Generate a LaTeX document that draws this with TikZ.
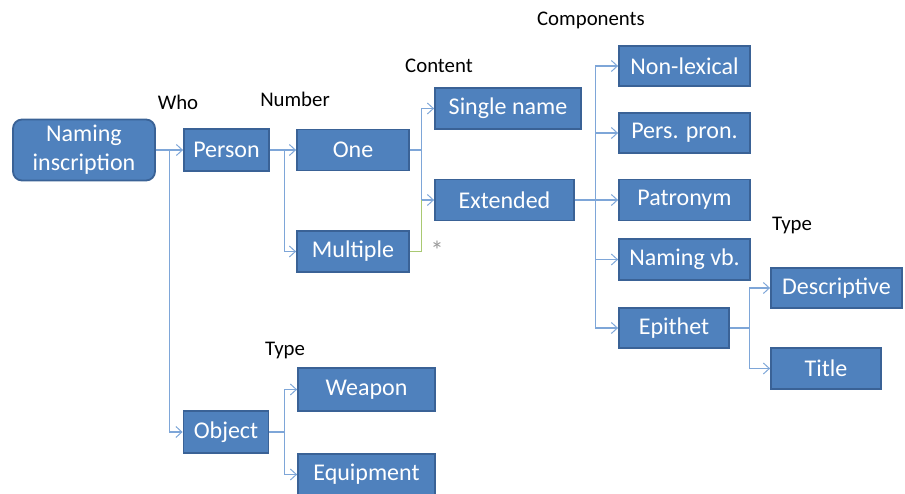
\documentclass[tikz,border=0pt]{standalone}
\usepackage{fontspec}
\setmainfont{Carlito}
\usetikzlibrary{arrows.meta}
\definecolor{boxfill}{HTML}{4F81BD}
\definecolor{boxedge}{HTML}{3A6296}
\definecolor{linkblue}{HTML}{7EA6D8}
\definecolor{linkgreen}{HTML}{A9C972}
\begin{document}
\begin{tikzpicture}[x=1pt,y=-1pt,
  box/.style={draw=boxedge, line width=1.8pt, fill=boxfill, text=white,
    font=\fontsize{24}{29}\selectfont, inner sep=0pt, minimum height=41pt, align=center},
  head/.style={font=\fontsize{20.8}{24}\selectfont, text=black, inner sep=0pt},
  conn/.style={draw=linkblue, line width=1.1pt,
    -{Straight Barb[length=6pt,width=11pt,line width=1pt]}},
  greenlink/.style={draw=linkgreen, line width=1.1pt},
]
\useasboundingbox (0,0) rectangle (905,494);
\clip (0,0) rectangle (905,494);

% column headings
\node[head] (hwho)  at (178,102) {Who};
\node[head] (hnum)  at (295,99)  {Number};
\node[head] (hcont) at (439,66)  {Content};
\node[head] (hcomp) at (591,20)  {Components};
\node[head] (htyp1) at (792,226) {Type};
\node[head] (htyp2) at (285,351) {Type};

% boxes
\node[box, rounded corners=9pt, minimum width=142pt, minimum height=61pt] (root) at (84,150) {Naming\\inscription};
\node[box, minimum width=85pt, minimum height=42pt] (person) at (226.5,150) {Person};
\node[box, minimum width=85pt, minimum height=42pt] (object) at (226,432) {Object};
\node[box, minimum width=112pt] (one) at (353,150) {One};
\node[box, minimum width=112pt] (multiple) at (353,251.5) {Multiple};
\node[box, minimum width=146pt] (single) at (508,108.5) {Single name};
\node[box, minimum width=139pt] (extended) at (504.5,200) {Extended};
\node[box, minimum width=131pt, minimum height=40pt] (nonlex) at (684.5,66) {Non-lexical};
\node[box, minimum width=131pt, minimum height=40pt] (perspron) at (684.5,133) {Pers. pron.};
\node[box, minimum width=131pt, minimum height=41pt] (patronym) at (684.5,200) {Patronym};
\node[box, minimum width=131pt, minimum height=41pt] (namingvb) at (684.5,259.5) {Naming vb.};
\node[box, minimum width=110pt, minimum height=40pt] (epithet) at (674,328) {Epithet};
\node[box, minimum width=131pt, minimum height=40pt] (descr) at (836.5,288) {Descriptive};
\node[box, minimum width=110pt] (title) at (826,368.5) {Title};
\node[box, minimum width=137pt, minimum height=43pt] (weapon) at (366.5,389.5) {Weapon};
\node[box, minimum width=137pt] (equip) at (366.5,474.5) {Equipment};

% connectors
\draw[conn] (root.east) -- (person.west);
\draw[conn] (root.east) -- ++(14,0) |- (object.west);
\draw[conn] (person.east) -- (one.west);
\draw[conn] (person.east) -- ++(15,0) |- (multiple.west);
\draw[conn] (one.east) -- ++(12,0) |- (single.west);
\draw[conn] (one.east) -- ++(12,0) |- (extended.west);
\coordinate (fork) at ([xshift=12pt]one.east);
\draw[greenlink] (multiple.east) -| (fork |- extended.west);
\node[text=gray!80, font=\fontsize{26}{28}\selectfont, inner sep=0pt] (star) at (437,250) {*};

\draw[conn] (extended.east) -- ++(21,0) |- (nonlex.west);
\draw[conn] (extended.east) -- ++(21,0) |- (perspron.west);
\draw[conn] (extended.east) -- (patronym.west);
\draw[conn] (extended.east) -- ++(21,0) |- (namingvb.west);
\draw[conn] (extended.east) -- ++(21,0) |- (epithet.west);

\draw[conn] (epithet.east) -- ++(20,0) |- (descr.west);
\draw[conn] (epithet.east) -- ++(20,0) |- (title.west);

\draw[conn] (object.east) -- ++(15,0) |- (weapon.west);
\draw[conn] (object.east) -- ++(15,0) |- (equip.west);
\end{tikzpicture}
\end{document}
